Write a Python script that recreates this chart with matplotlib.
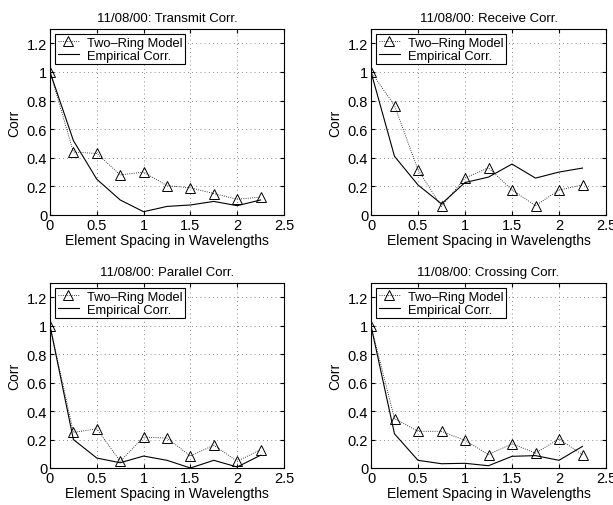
import matplotlib.pyplot as plt
import numpy as np

plt.rcParams['font.family'] = ['Liberation Sans', 'DejaVu Sans']

# element spacing (wavelengths)
spacing = [0, 0.25, 0.5, 0.75, 1.0, 1.25, 1.5, 1.75, 2.0, 2.25]

titles = ['11/08/00: Transmit Corr.', '11/08/00: Receive Corr.',
          '11/08/00: Parallel Corr.', '11/08/00: Crossing Corr.']

# two-ring model (triangles)
model_transmit = [1.0, 0.44, 0.43, 0.28, 0.30, 0.205, 0.19, 0.15, 0.11, 0.125]
model_receive = [1.0, 0.765, 0.316, 0.06, 0.258, 0.33, 0.175, 0.065, 0.175, 0.21]
model_parallel = [1.0, 0.25, 0.275, 0.047, 0.217, 0.21, 0.084, 0.16, 0.047, 0.13]
model_crossing = [1.0, 0.347, 0.258, 0.258, 0.194, 0.094, 0.17, 0.105, 0.204, 0.094]

# empirical correlation (solid line)
emp_transmit = [1.0, 0.52, 0.25, 0.105, 0.023, 0.06, 0.07, 0.095, 0.065, 0.105]
emp_receive = [1.0, 0.41, 0.21, 0.078, 0.227, 0.265, 0.356, 0.258, 0.30, 0.328]
emp_parallel = [1.0, 0.20, 0.07, 0.037, 0.084, 0.054, 0.0, 0.054, 0.007, 0.09]
emp_crossing = [1.0, 0.24, 0.054, 0.03, 0.033, 0.016, 0.082, 0.087, 0.054, 0.152]

models = [model_transmit, model_receive, model_parallel, model_crossing]
emps = [emp_transmit, emp_receive, emp_parallel, emp_crossing]

fig = plt.figure(figsize=(6.13, 5.06), dpi=100)

# axes boxes in figure fractions
boxes = [
    [50 / 613, 290 / 506, 234 / 613, 186 / 506],
    [371 / 613, 290 / 506, 235 / 613, 186 / 506],
    [50 / 613, 37 / 506, 234 / 613, 185 / 506],
    [371 / 613, 37 / 506, 235 / 613, 185 / 506],
]

for box, title, model, emp in zip(boxes, titles, models, emps):
    ax = fig.add_axes(box)
    ax.plot(spacing, model, linestyle=':', color='k', lw=0.6, marker='^',
            markersize=7, markerfacecolor='none', markeredgewidth=0.7,
            label='Two\u2013Ring Model')
    ax.plot(spacing, emp, '-', color='k', lw=0.8, label='Empirical Corr.')
    ax.set_xlim(0, 2.5)
    ax.set_ylim(0, 1.3)
    ax.set_xticks([0, 0.5, 1, 1.5, 2, 2.5])
    ax.set_xticklabels(['0', '0.5', '1', '1.5', '2', '2.5'])
    ax.set_yticks([0, 0.2, 0.4, 0.6, 0.8, 1.0, 1.2])
    ax.set_yticklabels(['0', '0.2', '0.4', '0.6', '0.8', '1', '1.2'])
    ax.tick_params(direction='in', length=3, labelsize=10.5, top=True, right=True, pad=2)
    ax.grid(True, linestyle=(0, (1, 4)), color='0.4', lw=0.6)
    for s in ax.spines.values():
        s.set_linewidth(0.8)
    ax.set_title(title, fontsize=9.5, pad=6)
    ax.set_xlabel('Element Spacing in Wavelengths', fontsize=10, labelpad=1)
    ax.set_ylabel('Corr', fontsize=10, labelpad=4)
    leg = ax.legend(loc='upper left', bbox_to_anchor=(0.01, 0.985), fontsize=9.3,
                    fancybox=False, framealpha=1, edgecolor='k',
                    borderpad=0.2, handlelength=1.7, labelspacing=0.05,
                    handletextpad=0.6, borderaxespad=0.2)
    leg.get_frame().set_linewidth(0.8)

fig.savefig('out.png', dpi=100)
